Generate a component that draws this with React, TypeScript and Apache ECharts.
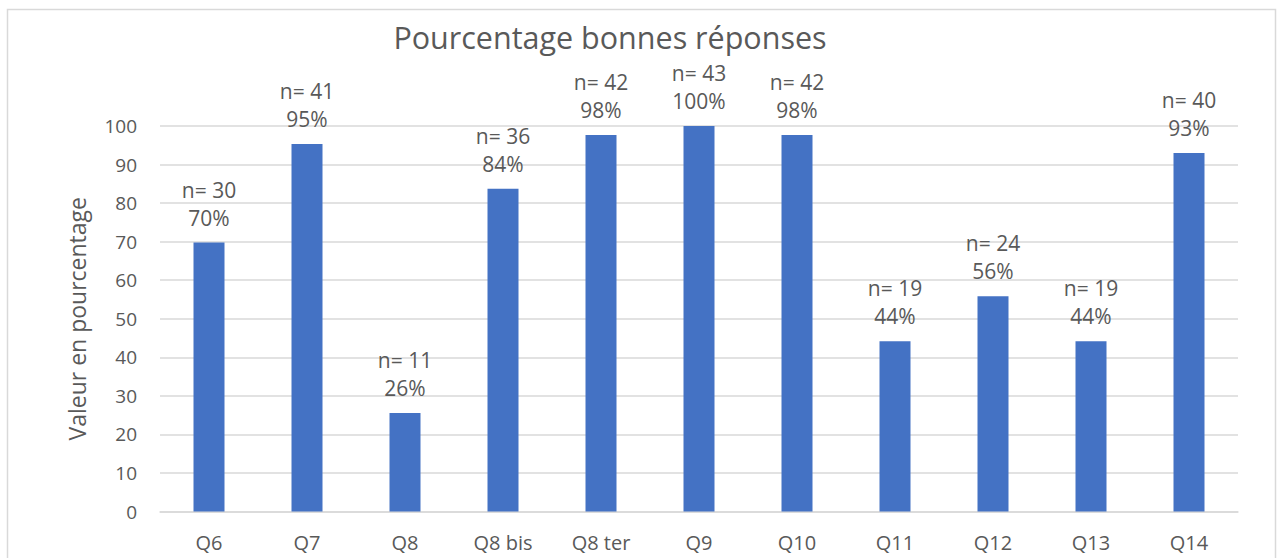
import React, { useEffect, useRef } from "react";
import * as echarts from "echarts";

const categories = ["Q6", "Q7", "Q8", "Q8 bis", "Q8 ter", "Q9", "Q10", "Q11", "Q12", "Q13", "Q14"];
const counts = [30, 41, 11, 36, 42, 43, 42, 19, 24, 19, 40];
const percents = [69.77, 95.35, 25.58, 83.72, 97.67, 100, 97.67, 44.19, 55.81, 44.19, 93.02];
const pctLabels = ["70%", "95%", "26%", "84%", "98%", "100%", "98%", "44%", "56%", "44%", "93%"];
const yTicks = { min: 0, max: 100, interval: 10 };

const FONT = "Open Sans";
const TEXT = "#595959";

export default function App() {
  const ref = useRef<HTMLDivElement>(null);
  useEffect(() => {
    if (!ref.current) return;
    const chart = echarts.init(ref.current, null, { renderer: "svg" });
    chart.setOption({
      animation: false,
      textStyle: { fontFamily: FONT },
      graphic: [
        {
          type: "rect",
          shape: { x: 7.5, y: 9.5, width: 1268, height: 570 },
          style: { fill: "none", stroke: "#d9d9d9", lineWidth: 1.5 },
          silent: true,
        },
        {
          type: "text",
          x: 610,
          y: 37,
          style: {
            text: "Pourcentage bonnes réponses",
            fill: TEXT,
            fontFamily: FONT,
            fontSize: 30.5,
            lineHeight: 20,
            align: "center",
            verticalAlign: "middle",
          },
        },
      ],
      grid: { left: 160, right: 39, top: 126, bottom: 46.5 },
      xAxis: {
        type: "category",
        data: categories,
        axisLine: { lineStyle: { color: "#d9d9d9", width: 1.5 } },
        axisTick: { show: false },
        axisLabel: { color: TEXT, fontSize: 20, fontFamily: FONT, margin: 21, lineHeight: 20 },
      },
      yAxis: {
        type: "value",
        min: yTicks.min,
        max: yTicks.max,
        interval: yTicks.interval,
        name: "Valeur en pourcentage",
        nameLocation: "middle",
        nameGap: 72,
        nameTextStyle: { color: TEXT, fontSize: 23, fontFamily: FONT },
        axisLine: { show: false },
        axisTick: { show: false },
        axisLabel: { color: TEXT, fontSize: 19, fontFamily: FONT, margin: 23 },
        splitLine: { lineStyle: { color: "#d9d9d9", width: 1.5 } },
      },
      series: [
        {
          type: "bar",
          data: percents,
          barWidth: 31,
          itemStyle: { color: "#4472C4" },
          label: {
            show: true,
            position: "top",
            distance: 11,
            color: TEXT,
            fontSize: 21,
            fontFamily: FONT,
            lineHeight: 28,
            formatter: (p: any) => "n= " + counts[p.dataIndex] + "\n" + pctLabels[p.dataIndex],
          },
        },
      ],
    });
    return () => chart.dispose();
  }, []);
  return (
    <div
      ref={ref}
      style={{ position: "fixed", left: 0, top: 0, width: 1277, height: 558, background: "#fff" }}
    />
  );
}
